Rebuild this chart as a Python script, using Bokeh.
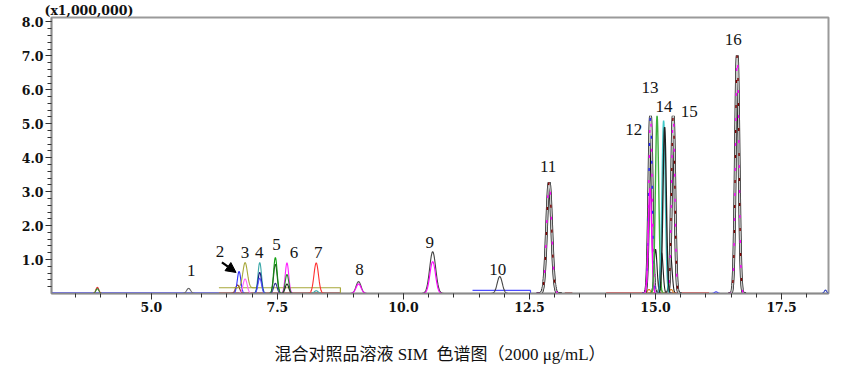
import numpy as np
from bokeh.plotting import figure
from bokeh.models import Range1d, FixedTicker, Arrow, NormalHead, ColumnDataSource, Title
from bokeh.core.properties import value
from bokeh.embed import file_html
from bokeh.resources import INLINE

# ---------------- data (retention time in min, intensity x1,000,000) ----------------
x_tick_vals = [5.0, 7.5, 10.0, 12.5, 15.0, 17.5]
x_tick_labels = ["5.0", "7.5", "10.0", "12.5", "15.0", "17.5"]
y_tick_vals = [1.0, 2.0, 3.0, 4.0, 5.0, 6.0, 7.0, 8.0]
y_tick_labels = ["1.0", "2.0", "3.0", "4.0", "5.0", "6.0", "7.0", "8.0"]

# SIM window baselines
win_start = [3.02, 6.34, 6.34, 11.37, 13.20, 14.02]
win_end = [6.34, 8.75, 8.75, 12.52, 13.35, 16.06]
win_level = [0.0, 0.0, 0.17, 0.09, 0.0, 0.0]
win_color = ["#1a1aff", "#8b1a1a", "#a8a83a", "#4d4dff", "#8b1a1a", "#e01010"]

# small / medium peaks
pk_rt = [3.93, 3.93, 5.74, 6.71, 6.74, 6.86, 6.86, 7.15, 7.15, 7.15, 7.46, 7.46, 7.46,
         7.69, 7.69, 7.69, 8.27, 8.27, 9.11, 9.11, 10.58, 10.58, 11.91,
         14.87, 15.00, 15.10, 15.12, 15.30, 15.31, 16.20, 18.37]
pk_h = [0.18, 0.14, 0.15, 0.25, 0.65, 0.91, 0.43, 0.91, 0.62, 0.45, 1.06, 0.86, 0.30,
        0.90, 0.56, 0.28, 0.90, 0.08, 0.35, 0.28, 1.23, 0.94, 0.50,
        0.12, 1.30, 0.12, 1.20, 1.10, 0.12, 0.05, 0.10]
pk_sd = [0.03, 0.03, 0.04, 0.04, 0.035, 0.045, 0.04, 0.035, 0.035, 0.035, 0.035, 0.035, 0.035,
         0.035, 0.035, 0.035, 0.045, 0.04, 0.05, 0.05, 0.06, 0.055, 0.05,
         0.03, 0.03, 0.03, 0.03, 0.03, 0.03, 0.03, 0.025]
pk_base = [0.0, 0.0, 0.0, 0.0, 0.0, 0.17, 0.0, 0.0, 0.0, 0.0, 0.0, 0.0, 0.0,
           0.0, 0.0, 0.0, 0.0, 0.0, 0.0, 0.0, 0.0, 0.0, 0.0,
           0.0, 0.0, 0.0, 0.0, 0.0, 0.0, 0.0, 0.0]
pk_color = ["#e03030", "#2e8b2e", "#666666", "#8b3a1a", "#3030ff", "#a8a83a", "#ff66ff",
            "#3aa8a8", "#1a1a80", "#5050ff", "#10a010", "#207020", "#303090",
            "#ff20ff", "#2a8a2a", "#222222", "#ff3030", "#3aa8a8", "#555555", "#ff00ff",
            "#444444", "#ff00ff", "#444444",
            "#e08020", "#222222", "#a0a030", "#222222", "#222222", "#e08020", "#4040ff", "#3040c0"]

# coloured peaks in the 12-15 cluster
cl_rt = [14.89, 15.03, 15.16, 15.18]
cl_h = [3.10, 5.23, 5.09, 4.90]
cl_sd = [0.033, 0.033, 0.033, 0.033]
cl_color = ["#ff00ff", "#3cb03c", "#40c8c8", "#222222"]

# large peaks (multi-channel overlay)
big_rt = [12.89, 14.90, 15.35, 16.62]
big_h = [3.27, 5.23, 5.23, 7.01]
big_sd = [0.05, 0.033, 0.033, 0.035]
big_dash1 = ["#ff00ff", "#2020ff", "#800000", "#ff00ff"]
big_dash2 = ["#800000", "#ff00ff", "#ff00ff", "#800000"]

# peak numbers
lab_text = ["1", "2", "3", "4", "5", "6", "7", "8", "9", "10", "11", "12", "13", "14", "15", "16"]
lab_x = [5.79, 6.36, 6.86, 7.14, 7.48, 7.83, 8.31, 9.13, 10.52, 11.87, 12.87, 14.57, 14.89, 15.17, 15.67, 16.54]
lab_y = [0.67, 1.24, 1.21, 1.21, 1.45, 1.21, 1.21, 0.72, 1.50, 0.72, 3.74, 4.82, 6.08, 5.50, 5.37, 7.49]

arrow_start = (6.40, 0.92)
arrow_end = (6.68, 0.62)

caption = "混合对照品溶液 SIM\u00a0\u00a0色谱图（2000 μg/mL）"
scale_text = "(x1,000,000)"

# ---------------- figure ----------------
p = figure(width=856, height=366, output_backend="svg", toolbar_location=None,
           x_range=Range1d(3.02, 18.43), y_range=Range1d(0, 8.13),
           min_border_left=51, min_border_right=28, min_border_top=15, min_border_bottom=73)
p.xgrid.visible = False
p.ygrid.visible = False
p.background_fill_color = "white"
p.border_fill_color = "white"
p.outline_line_color = "#9a9a9a"
p.outline_line_width = 2

p.xaxis.ticker = FixedTicker(ticks=x_tick_vals, minor_ticks=list(np.arange(3.5, 18.45, 0.5)))
p.yaxis.ticker = FixedTicker(ticks=y_tick_vals, minor_ticks=list(np.arange(0.2, 8.05, 0.2)))
p.xaxis.major_label_overrides = {v: s for v, s in zip(x_tick_vals, x_tick_labels)}
p.yaxis.major_label_overrides = {v: s for v, s in zip(y_tick_vals, y_tick_labels)}
for ax in (p.xaxis[0], p.yaxis[0]):
    ax.axis_line_color = "#8a8a8a"
    ax.axis_line_width = 1.5
    ax.major_tick_line_color = "#333333"
    ax.minor_tick_line_color = "#333333"
    ax.major_tick_out = 6
    ax.major_tick_in = 0
    ax.minor_tick_out = 4
    ax.minor_tick_in = 0
    ax.major_label_text_font = "DejaVu Serif"
    ax.major_label_text_font_style = "bold"
    ax.major_label_text_font_size = "12.5px"
    ax.major_label_text_color = "#111111"
    ax.major_label_standoff = 2

# caption under the chart
xa = p.xaxis[0]
xa.axis_label = caption
xa.axis_label_standoff = 30
xa.axis_label_text_font = "'Liberation Serif', 'Noto Sans CJK SC'"
xa.axis_label_text_font_style = "normal"
xa.axis_label_text_font_size = "17px"
xa.axis_label_text_color = "#111111"

# window baselines
for s, e, lv, c in zip(win_start, win_end, win_level, win_color):
    p.line([s, e, e], [lv, lv, 0.0], line_color=c, line_width=1.8 if lv == 0 else 1.2)

def gauss(rt, h, sd, base=0.0, n=81):
    x = np.linspace(rt - 5 * sd, rt + 5 * sd, n)
    y = base + (h - base) * np.exp(-0.5 * ((x - rt) / sd) ** 2)
    return x, y

for rt, h, sd, b, c in zip(pk_rt, pk_h, pk_sd, pk_base, pk_color):
    x, y = gauss(rt, h, sd, b)
    p.line(x, y, line_color=c, line_width=1.1)

for rt, h, sd, d1, d2 in zip(big_rt, big_h, big_sd, big_dash1, big_dash2):
    x, y = gauss(rt, h, sd)
    p.line(x, y, line_color="#111111", line_width=2.8)
    p.line(x, y, line_color="#c8c8c8", line_width=1.5)
    p.line(x, y, line_color=d1, line_width=1.4, line_dash="3 22")
    p.line(x, y, line_color=d2, line_width=1.4, line_dash="3 22", line_dash_offset=12)

for rt, h, sd, c in zip(cl_rt, cl_h, cl_sd, cl_color):
    x, y = gauss(rt, h, sd)
    p.line(x, y, line_color=c, line_width=1.4)

src = ColumnDataSource(dict(x=lab_x, y=lab_y, t=lab_text))
p.text("x", "y", text="t", source=src, text_font=value("Liberation Serif"),
       text_font_size="17px", text_align="center", text_baseline="middle", text_color="#151515")

p.add_layout(Arrow(end=NormalHead(size=10, fill_color="black", line_color="black"),
                   x_start=arrow_start[0], y_start=arrow_start[1],
                   x_end=arrow_end[0], y_end=arrow_end[1],
                   line_color="black", line_width=2.2))

p.add_layout(Title(text=scale_text, align="left", offset=-7, standoff=0,
                   text_font="DejaVu Serif", text_font_style="bold", text_font_size="12.5px",
                   text_color="#111111"), "above")

open("out.html", "w").write(file_html(p, INLINE))
